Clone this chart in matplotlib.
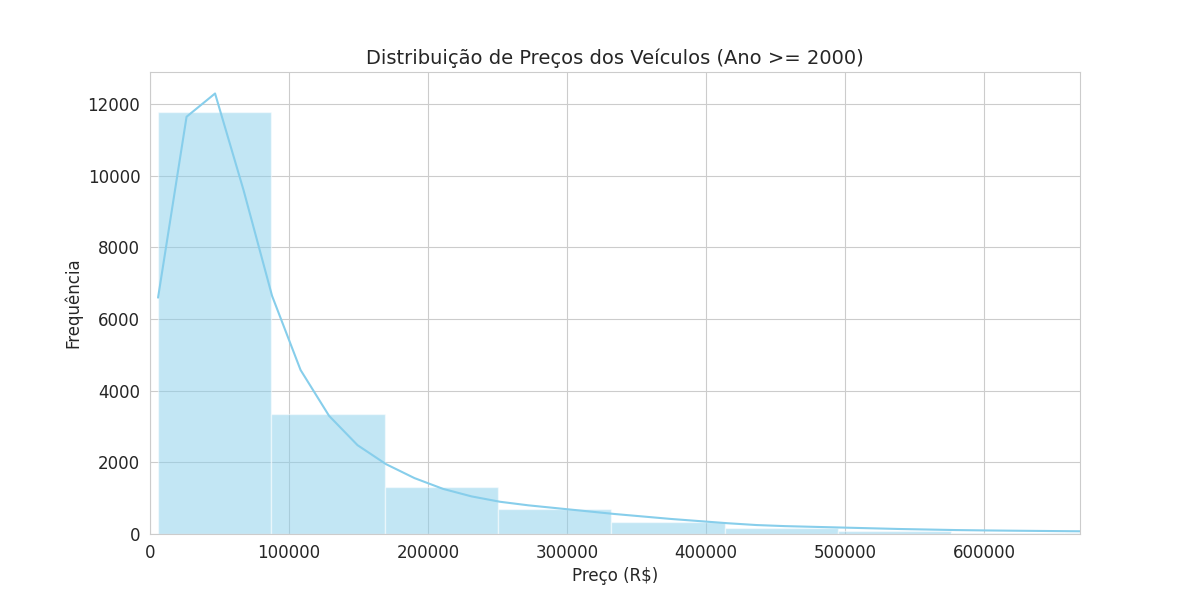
import matplotlib
matplotlib.use("Agg")
import matplotlib.pyplot as plt
import seaborn as sns
import numpy as np

sns.set_style("whitegrid")

bin_edges = [5800, 87300, 168800, 250300, 331800, 413300, 494800, 576300, 657800, 739300]
bin_counts = [11780, 3340, 1310, 690, 330, 170, 70, 40, 20]

kde_x_start = 5800
kde_x_step = 20500
kde_y = [6600, 11650, 12300, 9600, 6650, 4580, 3300, 2480, 1950, 1560, 1260, 1050,
         900, 800, 720, 640, 560, 490, 420, 360, 300, 250, 220, 200, 180, 160, 140,
         125, 110, 100, 92, 85, 78, 72]

fig, ax = plt.subplots(figsize=(12, 6), dpi=100)
edges = np.array(bin_edges)
ax.bar(edges[:-1], bin_counts, width=np.diff(edges), align="edge",
       color="skyblue", alpha=0.5, edgecolor="white", linewidth=1)
kx = kde_x_start + kde_x_step * np.arange(len(kde_y))
ax.plot(kx, kde_y, color="skyblue", linewidth=1.5)
ax.set_xlim(0, 669000)
ax.set_ylim(0, 12900)
ax.set_title("Distribuição de Preços dos Veículos (Ano >= 2000)", fontsize=14)
ax.set_xlabel("Preço (R$)", fontsize=12)
ax.set_ylabel("Frequência", fontsize=12)
ax.tick_params(labelsize=12)
fig.savefig("out.png")
